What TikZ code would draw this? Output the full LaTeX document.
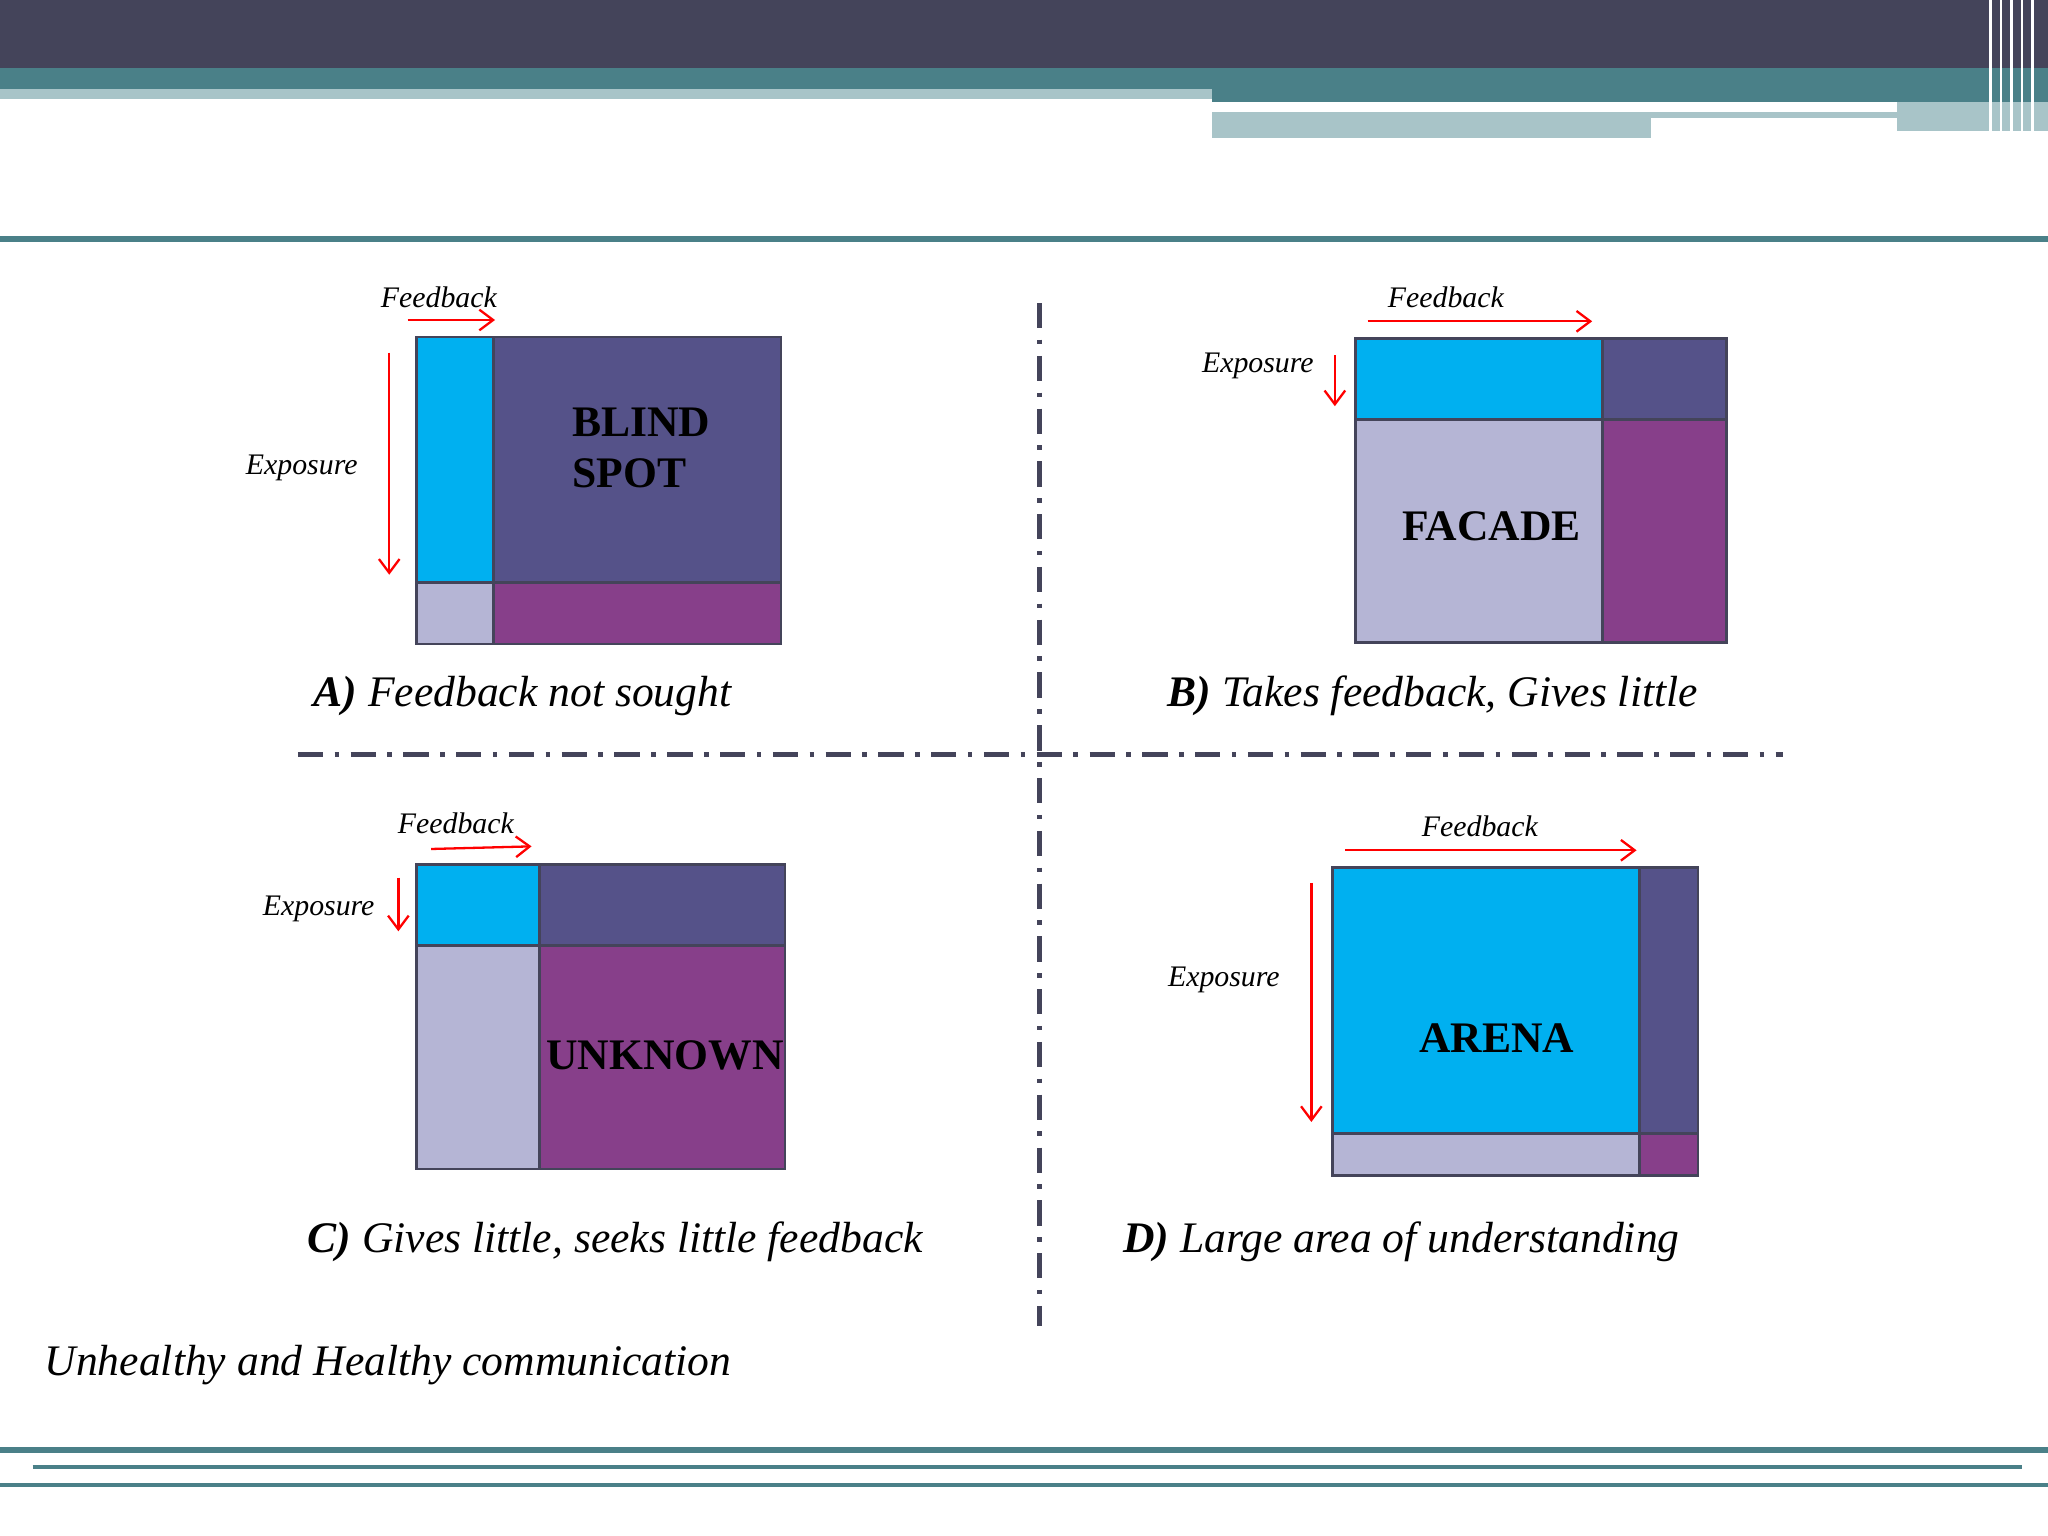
\documentclass[tikz,border=0pt]{standalone}
\usepackage{fontspec}
\setmainfont{Liberation Serif}
\usetikzlibrary{arrows.meta}
\definecolor{hdr}{HTML}{44445A}
\definecolor{teal}{HTML}{4A8088}
\definecolor{lteal}{HTML}{A8C4C8}
\definecolor{cblue}{HTML}{00B0F0}
\definecolor{cdark}{HTML}{555289}
\definecolor{clav}{HTML}{B5B5D5}
\definecolor{cpur}{HTML}{873F8A}
\begin{document}
\begin{tikzpicture}[x=0.02cm,y=-0.02cm,
 cell/.style={draw=hdr,line width=1.2pt},
 arr/.style={red,line width=1pt,-{Straight Barb[length=6pt,width=9pt]}},
 lab/.style={font=\fontsize{13}{15}\selectfont\itshape},
 captxt/.style={font=\fontsize{19}{22}\selectfont\itshape},
 big/.style={font=\fontsize{19}{22}\selectfont\bfseries},
 div/.style={hdr,line width=2.2pt,dash pattern=on 11pt off 5pt on 2pt off 5pt}]
\useasboundingbox (0,0) rectangle (1568,1176);
\fill[white] (0,0) rectangle (1568,1176);
% header
\fill[hdr] (0,0) rectangle (1568,52);
\fill[teal] (0,52) rectangle (928,68);
\fill[lteal] (0,68) rectangle (928,76);
\fill[teal] (928,52) rectangle (1568,78);
\fill[lteal] (928,86) rectangle (1452,90);
\fill[lteal] (928,90) rectangle (1264,106);
\fill[lteal] (1452,78) rectangle (1568,100);
\foreach \x in {1524,1532,1540,1548,1556}{\draw[white,line width=1pt] (\x,0) -- (\x,106);}
\draw[teal,line width=2.5pt] (0,183) -- (1568,183);
\draw[teal,line width=2.5pt] (0,1110) -- (1568,1110);
\draw[teal,line width=1.5pt] (25,1123) -- (1548,1123);
\draw[teal,line width=2pt] (0,1137) -- (1568,1137);
% dividers
\draw[div] (228,578) -- (1365,578);
\draw[div] (796,232) -- (796,1015);
% A
\filldraw[cell,fill=cblue] (319,258) rectangle (378,446);
\filldraw[cell,fill=cdark] (378,258) rectangle (598,446);
\filldraw[cell,fill=clav] (319,446) rectangle (378,493);
\filldraw[cell,fill=cpur] (378,446) rectangle (598,493);
\node[big,align=left,anchor=west] (tA) at (432,343) {BLIND\\SPOT};
\coordinate (fa1) at (312,245); \coordinate (fa2) at (379,245);
\draw[arr] (fa1) -- (fa2);
\node[lab] (lfa) at (336,228) {Feedback};
\coordinate (ea1) at (298,270); \coordinate (ea2) at (298,440);
\draw[arr] (ea1) -- (ea2);
\node[lab] (lea) at (231,358) {Exposure};
\node[captxt] (cA) at (400,533) {\textbf{A)} Feedback not sought};
% B
\filldraw[cell,fill=cblue] (1038,259) rectangle (1227,321);
\filldraw[cell,fill=cdark] (1227,259) rectangle (1322,321);
\filldraw[cell,fill=clav] (1038,321) rectangle (1227,492);
\filldraw[cell,fill=cpur] (1227,321) rectangle (1322,492);
\node[big] (tB) at (1142,403) {FACADE};
\coordinate (fb1) at (1047,246); \coordinate (fb2) at (1219,246);
\draw[arr] (fb1) -- (fb2);
\node[lab] (lfb) at (1107,228) {Feedback};
\coordinate (eb1) at (1022,272); \coordinate (eb2) at (1022,311);
\draw[arr] (eb1) -- (eb2);
\node[lab] (leb) at (963,280) {Exposure};
\node[captxt] (cB) at (1097,533) {\textbf{B)} Takes feedback, Gives little};
% C
\filldraw[cell,fill=cblue] (319,662) rectangle (413,724);
\filldraw[cell,fill=cdark] (413,662) rectangle (601,724);
\filldraw[cell,fill=clav] (319,724) rectangle (413,895);
\filldraw[cell,fill=cpur] (413,724) rectangle (601,895);
\node[big] (tC) at (509,808) {UNKNOWN};
\coordinate (fc1) at (330,650); \coordinate (fc2) at (407,648);
\draw[arr] (fc1) -- (fc2);
\node[lab] (lfc) at (349,630) {Feedback};
\coordinate (ec1) at (305,672); \coordinate (ec2) at (305,713);
\draw[arr] (ec1) -- (ec2);
\node[lab] (lec) at (244,696) {Exposure};
\node[captxt] (cC) at (471,951) {\textbf{C)} Gives little, seeks little feedback};
% D
\filldraw[cell,fill=cblue] (1020,664) rectangle (1255,868);
\filldraw[cell,fill=cdark] (1255,664) rectangle (1300,868);
\filldraw[cell,fill=clav] (1020,868) rectangle (1255,900);
\filldraw[cell,fill=cpur] (1255,868) rectangle (1300,900);
\node[big] (tD) at (1146,795) {ARENA};
\coordinate (fd1) at (1030,651); \coordinate (fd2) at (1253,651);
\draw[arr] (fd1) -- (fd2);
\node[lab] (lfd) at (1133,633) {Feedback};
\coordinate (ed1) at (1004,676); \coordinate (ed2) at (1004,859);
\draw[arr] (ed1) -- (ed2);
\node[lab] (led) at (937,750) {Exposure};
\node[captxt] (cD) at (1073,951) {\textbf{D)} Large area of understanding};
\node[captxt,anchor=west] (foot) at (28,1045) {Unhealthy and Healthy communication};
\end{tikzpicture}
\end{document}
